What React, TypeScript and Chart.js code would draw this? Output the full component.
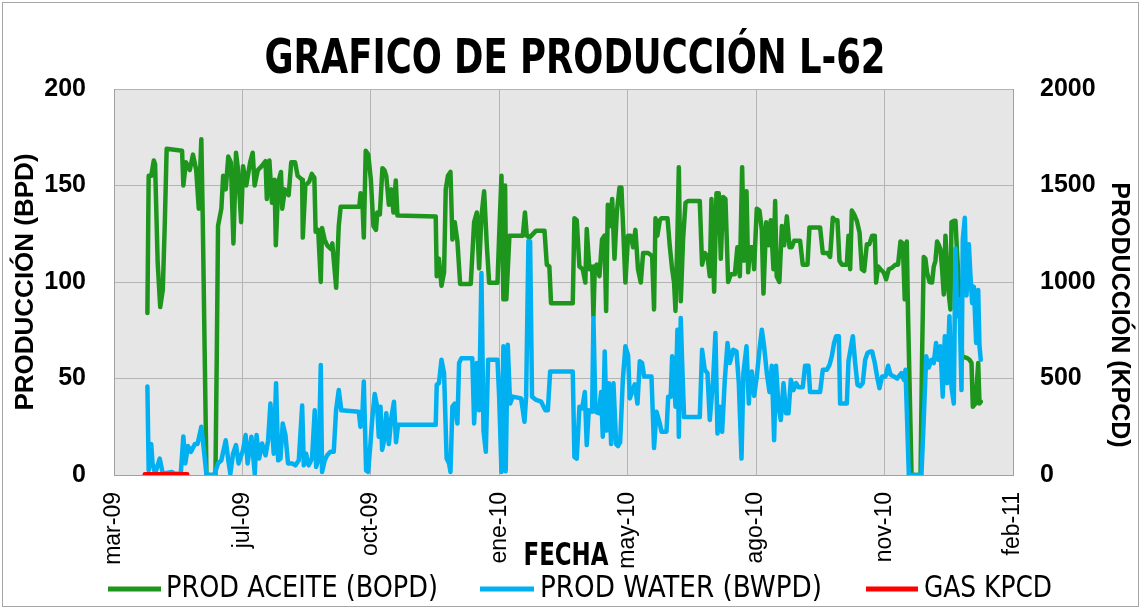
import { useEffect, useRef } from "react";
import { Chart, registerables } from "chart.js";

Chart.register(...registerables);

const NARROW = "'Liberation Sans Narrow', 'Arial Narrow', 'DejaVu Sans Condensed', sans-serif";
const SANS = "'Liberation Sans', Arial, sans-serif";

const chartTitle = "GRAFICO DE PRODUCCIÓN L-62";
const leftAxisTitle = "PRODUCCIÓN (BPD)";
const rightAxisTitle = "PRODUCCIÓN (KPCD)";
const xAxisTitle = "FECHA";
const seriesNames = ["PROD ACEITE (BOPD)", "PROD WATER (BWPD)", "GAS KPCD"];
const seriesColors = ["#1e961e", "#00b0f0", "#ff0000"];

// Date axis in spreadsheet serial days (39900 = 28-mar-2009), major unit 100 days
const xMin = 39900;
const xMax = 40600;
const xStep = 100;
const monthNames = ["ene", "feb", "mar", "abr", "may", "jun", "jul", "ago", "sep", "oct", "nov", "dic"];

const leftMin = 0;
const leftMax = 200;
const leftStep = 50;
const rightMin = 0;
const rightMax = 2000;
const rightStep = 500;

// [serial day, BOPD]
const oilSeries: [number, number][] = [
  [39926, 84], [39927, 155], [39929, 155], [39931, 163], [39932, 161], [39934, 110], [39936, 87], [39938, 96],
  [39939.5, 129], [39941, 169], [39953, 168], [39954, 150], [39956, 162], [39959, 158], [39961.5, 166], [39964, 158],
  [39966, 138], [39968, 174], [39969, 137], [39972, 0], [39979, 0], [39980, 60], [39981, 129], [39983.6, 138],
  [39985, 155], [39987, 148], [39989, 165], [39991, 162], [39993, 120], [39995, 167], [39996.6, 158], [39999, 131],
  [40000.5, 160], [40003, 150], [40006, 162], [40008, 167], [40009.5, 150], [40012, 158], [40015, 160], [40018, 162.6],
  [40019, 143], [40021, 163], [40023, 141], [40025, 153], [40026, 119], [40028, 152], [40030, 157], [40031, 138],
  [40033, 148], [40036, 145], [40038, 162], [40041, 162], [40043, 155], [40046.5, 153], [40047, 123], [40049, 150],
  [40052, 152], [40054, 156], [40056, 154], [40057, 126], [40059, 127], [40061, 100], [40062, 128], [40064, 122],
  [40066, 119], [40069, 117], [40070, 120], [40073, 97], [40075, 129], [40076.5, 139], [40091, 139], [40092, 146],
  [40093.5, 140], [40094.5, 123], [40096, 168], [40098, 166], [40100, 153], [40102, 129], [40104, 127], [40105, 136],
  [40107, 135], [40109, 159], [40110.5, 158], [40112, 155], [40114, 140], [40116, 148], [40117.6, 136], [40119.4, 152.6],
  [40120.7, 134.4], [40150.5, 134], [40151.3, 103], [40153, 112], [40155, 98], [40157, 105], [40158.3, 148], [40160, 155],
  [40162, 157], [40163.5, 122], [40165.3, 131], [40167.4, 121], [40169.5, 99], [40177.8, 99], [40180.4, 131], [40182.5, 136],
  [40184.3, 107], [40186.1, 134], [40188.2, 147], [40190.3, 119], [40192.1, 99.6], [40198.6, 99.6], [40199.9, 124], [40201.7, 155],
  [40203.2, 91], [40204.5, 150], [40205.5, 91], [40207.9, 124], [40218.3, 124], [40220, 136], [40221.4, 124], [40223.5, 123],
  [40228.7, 126.6], [40235.2, 126.6], [40237, 109], [40239, 108], [40240.3, 89], [40257.2, 89], [40258.5, 133], [40260.3, 132],
  [40262.4, 108], [40265, 106.6], [40267, 99.7], [40268.1, 127.4], [40270.2, 106.6], [40272.3, 108], [40273.3, 82], [40274.4, 108],
  [40275.9, 109], [40278, 103], [40280, 122], [40281.9, 124], [40283.2, 85], [40284.5, 140], [40286.3, 129], [40287.9, 143],
  [40289.7, 112], [40291.5, 136], [40293.6, 149], [40295.1, 149], [40296.7, 124], [40298.2, 99.7], [40300.3, 124], [40302.4, 124],
  [40304.2, 118], [40306, 127], [40308, 106.6], [40310.2, 99.7], [40312, 115], [40315.9, 115], [40319, 113.5], [40320.5, 85.8],
  [40321.6, 133], [40323.1, 124], [40325, 132], [40326.3, 133], [40331, 133], [40332.7, 119], [40334.6, 106.6], [40336.1, 99.7],
  [40337.2, 85], [40338.7, 124], [40339.8, 159.5], [40341.3, 90], [40343.1, 122], [40345, 141], [40347, 142], [40356.1, 142],
  [40357.9, 109], [40360, 115], [40362.1, 113.5], [40363.9, 103], [40365.2, 143], [40367.3, 95], [40369.1, 146], [40370.9, 146],
  [40372.5, 112], [40374.3, 144], [40376.1, 143], [40378.2, 100], [40380.3, 104], [40383.4, 104], [40385.4, 118], [40387.3, 103],
  [40389.1, 159.5], [40390.6, 111], [40392.5, 147], [40393.8, 105], [40395.3, 118], [40397.4, 118], [40398.4, 106.6], [40400.5, 138],
  [40402.6, 137], [40404.4, 127], [40405.7, 94], [40407.8, 131], [40409.6, 119], [40411.4, 132], [40413.5, 106.6], [40414.8, 142],
  [40416, 103], [40418.1, 100], [40420, 129], [40421.8, 119], [40423.9, 134], [40426, 118], [40427.7, 118], [40429.6, 121.4],
  [40434.2, 121.4], [40436.3, 109], [40440, 109], [40441.5, 128.3], [40449.8, 128.3], [40451.9, 115], [40455.5, 115], [40457.6, 113],
  [40459.7, 133.3], [40461.5, 132], [40463.3, 132], [40464.9, 111], [40466.7, 109], [40470.6, 109], [40471.9, 124], [40473.2, 106.6],
  [40474.5, 137], [40476.3, 135], [40478.4, 131.7], [40480.5, 125.7], [40482.3, 106.6], [40484.1, 105.7], [40486.2, 119.6], [40488.2, 119.6],
  [40490.3, 124], [40492.4, 124], [40493.4, 99.7], [40495, 108], [40496.8, 106.6], [40499.4, 104.9], [40501.2, 101.4], [40503.3, 106.6],
  [40505.9, 107.4], [40508.5, 109], [40510.5, 109], [40512.4, 121], [40514.2, 120], [40515.7, 91], [40517.3, 121], [40518.3, 82.3],
  [40521, 0], [40528, 0], [40529.2, 61.5], [40530.5, 113], [40531.8, 112], [40533.1, 104.9], [40535, 100], [40537, 99.7],
  [40538.3, 108], [40539.6, 111], [40540.9, 121], [40542.2, 119.3], [40543.5, 117], [40544.8, 106.6], [40546.1, 93.5], [40547.4, 124],
  [40549.5, 97], [40551.3, 85.8], [40552.1, 131], [40553.9, 131.7], [40555.2, 131.7], [40556.5, 114.6], [40558.3, 93], [40560.4, 61.5],
  [40564.3, 60.6], [40566.1, 59.7], [40567.7, 58], [40568.7, 35.4], [40570.8, 37], [40572.9, 58], [40573.9, 37], [40574.9, 38],
];

// [serial day, BWPD]
const waterSeries: [number, number][] = [
  [39926, 45.9], [39927, 2.4], [39929, 16], [39930, 6], [39932, 0.7], [39935.6, 8.5], [39938, 0.7], [39945, 1.6],
  [39947, 0.7], [39952, 0.7], [39954, 20], [39955.5, 6], [39957.6, 15], [39960, 12], [39963, 16], [39965, 16],
  [39968, 25], [39970, 13], [39972, 0], [39978, 0], [39981, 6], [39983.6, 7.6], [39987, 18], [39989, 7.6],
  [39990.6, 0.7], [39992.7, 11], [39995, 15.5], [39997, 6], [40000.5, 13], [40002.5, 20.7], [40004, 6], [40007, 19.8],
  [40009.6, 0.7], [40011, 20.7], [40013, 8.5], [40015.3, 16.3], [40018, 10.2], [40020, 18], [40021.8, 37], [40024.4, 11],
  [40026.2, 47.6], [40027.8, 7.6], [40029.6, 8.5], [40031.4, 26.7], [40033.5, 20.7], [40035.5, 6], [40038.7, 6], [40041.3, 5],
  [40043.9, 7.6], [40046.5, 36], [40047.8, 5], [40049.6, 11], [40051.6, 5], [40054.2, 8.5], [40056.3, 33.5], [40057.4, 4.2],
  [40059.4, 8.5], [40061, 57], [40062, 1.6], [40064.1, 7.6], [40066, 10.2], [40068.5, 12], [40071.1, 12], [40072.9, 33.5],
  [40075, 44], [40077, 33.5], [40090.6, 32.8], [40091.9, 25], [40093.2, 28.5], [40094.5, 48.5], [40096.3, 2.4], [40097.9, 1.6],
  [40099.7, 16.3], [40101, 28.5], [40103, 42], [40104.9, 35.4], [40106.2, 19.8], [40107.5, 35.4], [40108.8, 13], [40110.3, 18],
  [40112, 32], [40114, 16], [40116, 30], [40118, 38], [40119.6, 17], [40121.2, 26], [40150.5, 26], [40151.3, 46.7],
  [40153, 47.6], [40155, 59.7], [40157, 52.8], [40159, 8.5], [40160.9, 6], [40162, 1.6], [40163.5, 35.4], [40165.3, 37],
  [40167.4, 26.7], [40168.7, 58], [40170.5, 60.5], [40179, 60.5], [40180.4, 26.7], [40182.5, 58], [40184.3, 33.5], [40186.1, 104.7],
  [40187.7, 23], [40189.5, 12], [40191.3, 59.7], [40198.6, 59.7], [40199.9, 40.6], [40201.7, 1.6], [40203.2, 66.7], [40204.3, 54],
  [40205, 2], [40206.6, 67.5], [40208.4, 37], [40210.5, 40.6], [40217, 39.7], [40219.6, 27.6], [40220.9, 40.6], [40222.7, 121.3],
  [40224, 121], [40225.5, 40.6], [40228.7, 38.9], [40232.6, 38], [40235.9, 33.5], [40237.8, 33.5], [40239.6, 53.6], [40257.2, 53.6],
  [40258.5, 9.4], [40260.3, 8.5], [40262.4, 35.4], [40264.5, 34.5], [40266.6, 43], [40268.1, 15.5], [40269.7, 33.5], [40272.3, 32.8],
  [40273.3, 81.4], [40274.9, 32.8], [40277.5, 32], [40279.3, 43], [40280.6, 19.8], [40282.1, 64], [40283.7, 23], [40285.3, 47.6],
  [40287.1, 16], [40288.9, 47.6], [40291, 16], [40292.5, 15], [40294.1, 17], [40296.2, 49.3], [40298.2, 66.7], [40300.3, 62],
  [40301.6, 39.7], [40303.4, 43], [40305.5, 47], [40307.6, 37], [40309.4, 59], [40311.2, 58], [40312.8, 51], [40318.5, 51],
  [40320.5, 14], [40322.4, 32.8], [40325, 26.7], [40326.3, 22.4], [40330.2, 22.4], [40331.5, 40.6], [40333.5, 40.6], [40334.6, 61.5],
  [40336.1, 49.3], [40337.2, 35.4], [40338.7, 75.3], [40339.8, 19.8], [40341.3, 81.4], [40342.4, 58], [40343.9, 30], [40356.1, 30],
  [40357.9, 64.9], [40360, 54.5], [40362.1, 52.8], [40363.9, 28.5], [40366.5, 49.3], [40368.3, 73.6], [40369.9, 21.5], [40371.7, 35.4],
  [40373.5, 22.4], [40375.6, 49.3], [40377.7, 68.4], [40379.5, 58], [40382.1, 64.9], [40384.7, 64], [40386.5, 47.6], [40388.6, 8.5],
  [40390.1, 52.8], [40392.5, 66.7], [40394.3, 37], [40395.3, 50], [40396.6, 53.6], [40398.4, 41], [40400.5, 51], [40402.6, 64.9],
  [40404.4, 75.3], [40406.2, 66.7], [40408.3, 52.8], [40410.4, 43], [40412.2, 56.6], [40414, 18], [40415.5, 56.6], [40417.4, 35.4],
  [40419.2, 28.5], [40421.3, 47.6], [40423.3, 32], [40425.2, 32], [40427, 49.3], [40429.1, 44], [40431.1, 47.6], [40432.9, 45.5],
  [40436.3, 45.5], [40438.1, 56.6], [40440.7, 56.6], [40442, 43], [40449.8, 43], [40451.9, 54.5], [40455, 54.5], [40457.1, 57],
  [40458.9, 61.5], [40460.7, 68.4], [40462.3, 71.9], [40464.4, 71.9], [40465.4, 37], [40470.6, 37], [40471.9, 59], [40473.2, 64],
  [40475.3, 71.9], [40477.1, 58], [40478.9, 46.7], [40481, 46], [40483, 47.6], [40484.9, 59.7], [40486.7, 63.2], [40488.8, 64],
  [40490.3, 64], [40492.4, 58], [40494.2, 51], [40496, 45], [40498.1, 51], [40500.7, 51], [40502.8, 56.6], [40504.6, 52],
  [40507.2, 51], [40509.8, 50], [40513.1, 52.8], [40515, 49.3], [40516.3, 54.5], [40518.9, 0], [40528.7, 0], [40530.5, 28.5],
  [40532.4, 61.5], [40534.4, 55.7], [40536.5, 59.7], [40538.3, 58], [40540.1, 68.4], [40541.7, 59.7], [40543.5, 66.7], [40545.3, 40.6],
  [40546.9, 71.9], [40548.7, 47.6], [40550.5, 82.3], [40552.1, 45.5], [40553.9, 37], [40555.2, 117.4], [40556.5, 82.3], [40558.3, 91],
  [40559.9, 44], [40560.9, 122], [40562.5, 133.3], [40563.8, 93], [40565.6, 119.6], [40566.9, 103], [40568.2, 89], [40569.5, 97.6],
  [40571.3, 68.4], [40572.9, 95.9], [40573.9, 66.7], [40574.9, 59.7],
];

// [serial day, KPCD]
const gasSeries: [number, number][] = [
  [39924, 4], [39930, 4], [39940, 4], [39950, 4], [39957, 4],
];

function serialToLabel(v: number): string {
  const d = new Date(Date.UTC(1899, 11, 30) + Math.round(v) * 86400000);
  const yy = String(d.getUTCFullYear() % 100).padStart(2, "0");
  return `${monthNames[d.getUTCMonth()]}-${yy}`;
}

// Layout of the hand-placed texts (pixel positions and target widths)
const titleBox = { cx: 575, cy: 61, width: 621, font: `bold 48px ${NARROW}` };
const fechaBox = { cx: 566, cy: 557, width: 85, font: `bold 32px ${NARROW}` };
const rightTitleBox = { cx: 1119, cy: 315, font: `bold 25px ${SANS}` };
const legendSlots = [
  { x1: 108, x2: 161, tx: 166, width: 272 },
  { x1: 480, x2: 534, tx: 540, width: 282 },
  { x1: 866, x2: 918, tx: 924, width: 128 },
];
const legendFont = `31px ${NARROW}`;
const legendY = 589;

function fitText(ctx: CanvasRenderingContext2D, text: string, x: number, y: number, width: number, align: "left" | "center") {
  const w = ctx.measureText(text).width;
  const sx = width / w;
  ctx.save();
  ctx.translate(x, y);
  ctx.scale(sx, 1);
  ctx.textAlign = align;
  ctx.fillText(text, 0, 0);
  ctx.restore();
}

const framePlugin = {
  id: "frame",
  beforeDraw(chart: any) {
    const { ctx, chartArea: a, width, height } = chart;
    ctx.save();
    ctx.fillStyle = "#ffffff";
    ctx.fillRect(0, 0, width, height);
    ctx.strokeStyle = "#a6a6a6";
    ctx.lineWidth = 1;
    ctx.strokeRect(2.5, 2.5, width - 5, height - 5);
    ctx.fillStyle = "#e6e6e6";
    ctx.fillRect(a.left, a.top, a.right - a.left, a.bottom - a.top);
    ctx.restore();
  },
};

const textPlugin = {
  id: "texts",
  afterDraw(chart: any) {
    const { ctx } = chart;
    ctx.save();
    ctx.fillStyle = "#000";
    ctx.textBaseline = "middle";
    // chart title
    ctx.font = titleBox.font;
    fitText(ctx, chartTitle, titleBox.cx, titleBox.cy, titleBox.width, "center");
    // x-axis title
    ctx.font = fechaBox.font;
    fitText(ctx, xAxisTitle, fechaBox.cx, fechaBox.cy, fechaBox.width, "center");
    // right axis title (reads top to bottom)
    ctx.save();
    ctx.font = rightTitleBox.font;
    ctx.translate(rightTitleBox.cx, rightTitleBox.cy);
    ctx.rotate(Math.PI / 2);
    ctx.textAlign = "center";
    ctx.fillText(rightAxisTitle, 0, 0);
    ctx.restore();
    // legend
    ctx.font = legendFont;
    chart.data.datasets.forEach((ds: any, i: number) => {
      const s = legendSlots[i];
      ctx.strokeStyle = ds.borderColor;
      ctx.lineWidth = 5;
      ctx.lineCap = "butt";
      ctx.beginPath();
      ctx.moveTo(s.x1, legendY);
      ctx.lineTo(s.x2, legendY);
      ctx.stroke();
      ctx.fillStyle = "#000";
      fitText(ctx, ds.label, s.tx, legendY, s.width, "left");
    });
    ctx.restore();
  },
};

export default function App() {
  const ref = useRef<HTMLCanvasElement | null>(null);

  useEffect(() => {
    document.body.style.margin = "0";
    const canvas = ref.current;
    if (!canvas) return;
    const toXY = (arr: [number, number][]) => arr.map(([x, y]) => ({ x, y }));
    const common = {
      pointRadius: 0,
      borderWidth: 4.5,
      tension: 0,
      borderJoinStyle: "round" as const,
      borderCapStyle: "round" as const,
      fill: false,
    };
    const chart = new Chart(canvas, {
      type: "line",
      data: {
        datasets: [
          { ...common, label: seriesNames[0], data: toXY(oilSeries), borderColor: seriesColors[0], backgroundColor: seriesColors[0], yAxisID: "y", order: 3 },
          { ...common, label: seriesNames[1], data: toXY(waterSeries), borderColor: seriesColors[1], backgroundColor: seriesColors[1], yAxisID: "y", order: 2 },
          { ...common, label: seriesNames[2], data: toXY(gasSeries), borderColor: seriesColors[2], backgroundColor: seriesColors[2], yAxisID: "y2", order: 1 },
        ],
      },
      options: {
        responsive: false,
        animation: false,
        devicePixelRatio: 1,
        events: [],
        layout: { padding: { top: 89, left: 0, right: 0, bottom: 0 } },
        plugins: {
          legend: { display: false },
          tooltip: { enabled: false },
          title: { display: false },
        },
        scales: {
          x: {
            type: "linear",
            min: xMin,
            max: xMax,
            afterFit: (s: any) => { s.height = 134; },
            ticks: {
              stepSize: xStep,
              autoSkip: false,
              minRotation: 90,
              maxRotation: 90,
              padding: 17,
              color: "#000",
              font: { family: SANS, size: 23 },
              callback: (v: any) => serialToLabel(Number(v)),
            },
            grid: { color: "#b4b4b4", lineWidth: 1, drawTicks: false },
            border: { display: true, color: "#a0a0a0", width: 1 },
          },
          y: {
            type: "linear",
            position: "left",
            min: leftMin,
            max: leftMax,
            afterFit: (s: any) => { s.width = 114; },
            ticks: {
              stepSize: leftStep,
              padding: 28,
              color: "#000",
              font: { family: SANS, size: 25, weight: "bold" },
              callback: (v: any) => String(v),
            },
            grid: { color: "#b4b4b4", lineWidth: 1, drawTicks: false },
            border: { display: true, color: "#a0a0a0", width: 1 },
            title: {
              display: true,
              text: leftAxisTitle,
              color: "#000",
              font: { family: SANS, size: 26, weight: "bold", lineHeight: 1.2 },
              padding: { top: 10, bottom: 0 },
            },
          },
          y2: {
            type: "linear",
            position: "right",
            min: rightMin,
            max: rightMax,
            afterFit: (s: any) => { s.width = 128; },
            ticks: {
              stepSize: rightStep,
              padding: 27,
              color: "#000",
              font: { family: SANS, size: 25, weight: "bold" },
              callback: (v: any) => String(v),
            },
            grid: { display: false, drawTicks: false },
            border: { display: true, color: "#a0a0a0", width: 1 },
          },
        },
      },
      plugins: [framePlugin, textPlugin],
    } as any);
    return () => chart.destroy();
  }, []);

  return (
    <div style={{ position: "absolute", left: 0, top: 0, width: 1141, height: 609 }}>
      <canvas ref={ref} width={1141} height={609} style={{ display: "block", width: 1141, height: 609 }} />
    </div>
  );
}
